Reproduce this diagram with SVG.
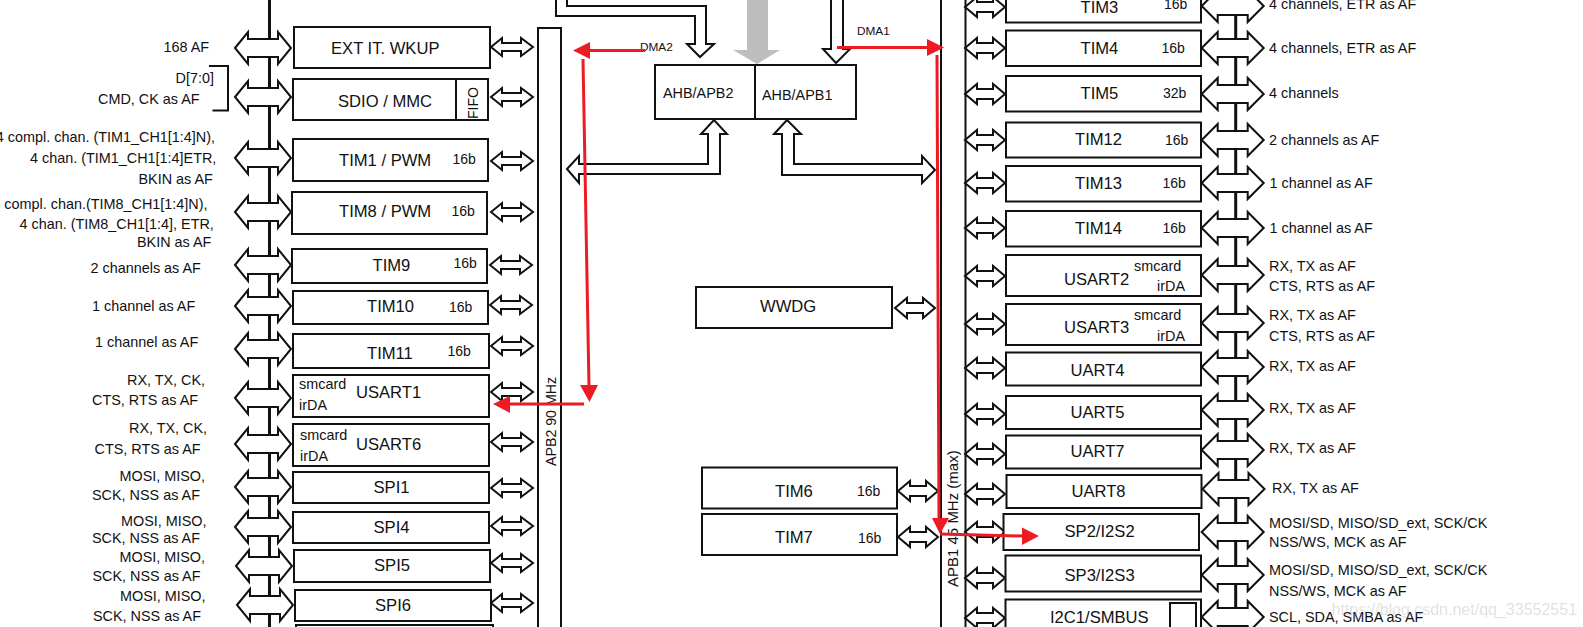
<svg xmlns="http://www.w3.org/2000/svg" width="1583" height="627" viewBox="0 0 1583 627">
<style>
text{font-family:"Liberation Sans",Arial,sans-serif;fill:#111}
.n{font-size:16.6px}
.s{font-size:14.4px}
.b{font-size:14px}
.d{font-size:11.8px}
.box{fill:#fff;stroke:#111;stroke-width:2}
.ln{fill:none;stroke:#111;stroke-width:2}
.bus{fill:none;stroke:#111;stroke-width:3}
.arr{fill:#fff;stroke:#111;stroke-width:2;stroke-linejoin:miter}
.red{fill:none;stroke:#ed1c24;stroke-width:3}
.redh{fill:#ed1c24}
</style>
<defs>
<path id="big-l" class="arr" d="M-28,0L-15,-16V-9H15V-16L28,0L15,16V9H-15V16Z"/>
<path id="big-r" class="arr" d="M-31,0L-15,-16V-9H15V-16L31,0L15,16V9H-15V16Z"/>
<path id="sm-a" class="arr" d="M-21,0L-10,-9V-4H9V-9L21,0L9,9V4H-10V9Z"/>
<path id="sm-b" class="arr" d="M-20,0L-8,-10V-5H8V-10L20,0L8,10V5H-8V10Z"/>
</defs>
<rect width="1583" height="627" fill="#fff"/>

<g id="connectors">
<!-- GPIO side buses -->
<path class="bus" d="M269.500,0V627M1235.700,0V627"/>
<!-- APB2 peripheral side -->
<g id="gpio-left">
<use href="#big-l" x="263" y="48"/><use href="#big-l" x="263" y="97"/><use href="#big-l" x="263" y="158"/><use href="#big-l" x="263" y="212"/><use href="#big-l" x="263" y="265"/><use href="#big-l" x="263" y="306"/><use href="#big-l" x="263" y="349"/><use href="#big-l" x="263" y="398"/><use href="#big-l" x="263" y="444"/><use href="#big-l" x="263" y="487"/><use href="#big-l" x="263" y="527"/><use href="#big-l" x="264" y="566"/><use href="#big-l" x="265" y="605"/>
</g>
<g id="apb2-links">
<use href="#sm-a" x="512" y="47"/><use href="#sm-a" x="512" y="97"/><use href="#sm-a" x="512" y="161"/><use href="#sm-a" x="512" y="212"/><use href="#sm-a" x="511" y="265"/><use href="#sm-a" x="511" y="305"/><use href="#sm-a" x="512" y="346"/><use href="#sm-a" x="512" y="392"/><use href="#sm-a" x="512" y="442"/><use href="#sm-a" x="512" y="488"/><use href="#sm-a" x="512" y="526"/><use href="#sm-a" x="512" y="563"/><use href="#sm-a" x="512" y="603"/>
</g>
<!-- APB1 peripheral side -->
<g id="apb1-links">
<use href="#sm-b" x="985" y="7"/><use href="#sm-b" x="985" y="48"/><use href="#sm-b" x="985" y="94"/><use href="#sm-b" x="985" y="140"/><use href="#sm-b" x="985" y="183"/><use href="#sm-b" x="985" y="228"/><use href="#sm-b" x="985" y="276"/><use href="#sm-b" x="985" y="324"/><use href="#sm-b" x="985" y="368"/><use href="#sm-b" x="985" y="414"/><use href="#sm-b" x="985" y="454"/><use href="#sm-b" x="985" y="494"/><use href="#sm-b" x="985" y="532"/><use href="#sm-b" x="985" y="578"/><use href="#sm-b" x="985" y="618"/>
<use href="#sm-b" x="915" y="308"/><use href="#sm-b" x="918" y="491"/><use href="#sm-b" x="918" y="537"/>
</g>
<g id="gpio-right">
<use href="#big-r" x="1232.700" y="6"/><use href="#big-r" x="1232.700" y="48"/><use href="#big-r" x="1232.700" y="94"/><use href="#big-r" x="1232.700" y="140"/><use href="#big-r" x="1232.700" y="183"/><use href="#big-r" x="1232.700" y="228"/><use href="#big-r" x="1232.700" y="275"/><use href="#big-r" x="1232.700" y="323"/><use href="#big-r" x="1232.700" y="367"/><use href="#big-r" x="1232.700" y="410"/><use href="#big-r" x="1232.700" y="450"/><use href="#big-r" x="1233.500" y="489"/><use href="#big-r" x="1232.700" y="532"/><use href="#big-r" x="1232.700" y="575"/><use href="#big-r" x="1232.700" y="617"/>
</g>
<!-- Matrix feeds into the bridges -->
<path class="arr" d="M556,-3V16H695V44H687L700,57L714,44H706V6H567V-3Z"/>
<path d="M747,0H768V50H780L757,64L733,50H747Z" fill="#bebebe"/>
<path class="arr" d="M831,-3V49H823L836,63L850,49H843V-3Z"/>
<!-- Bridge outputs -->
<path class="arr" d="M567,169L579,156V164H708V134H701L714,120L727,134H720V174H579V183Z"/>
<path class="arr" d="M787,120L774,134H782V175H922V183L935,170L922,156V164H794V134H801Z"/>
</g>

<g id="apb2-bus"><path class="ln" d="M538,630V28H561V630"/><text style="font-size:14.2px" transform="translate(556,466) rotate(-90)">APB2 90 MHz</text></g>
<g id="apb1-bus"><path class="ln" d="M941,-3V630M965.500,-3V630"/><text style="font-size:15px" transform="translate(958,587) rotate(-90)">APB1 45 MHz (max)</text></g>

<g id="ahb-apb"><rect class="box" x="655" y="65" width="201" height="54"/><path class="ln" d="M755,65V119"/><text class="s" x="663" y="98">AHB/APB2</text><text class="s" x="762" y="100">AHB/APB1</text></g>
<g id="wwdg"><rect class="box" x="696" y="287" width="196" height="41"/><text class="n" x="760" y="312">WWDG</text></g>
<g id="tim6"><rect class="box" x="702" y="467.500" width="195" height="41"/><text class="n" x="775" y="497">TIM6</text><text class="b" x="857" y="496">16b</text></g>
<g id="tim7"><rect class="box" x="702" y="514" width="195" height="41"/><text class="n" x="775" y="543">TIM7</text><text class="b" x="858" y="543">16b</text></g>

<g id="ext-it"><rect class="box" x="294" y="27" width="196" height="41"/><text class="n" x="331" y="54">EXT IT. WKUP</text></g>
<g id="sdio"><rect class="box" x="293" y="79" width="195" height="41"/><path class="ln" d="M456,79V120"/><text class="n" x="338" y="107">SDIO / MMC</text><text class="b" transform="translate(478,119) rotate(-90)">FIFO</text></g>
<g id="tim1"><rect class="box" x="293" y="139" width="195" height="42"/><text class="n" x="339" y="166">TIM1 / PWM</text><text class="b" x="452.500" y="164">16b</text></g>
<g id="tim8"><rect class="box" x="292" y="192" width="195" height="42"/><text class="n" x="339" y="217">TIM8 / PWM</text><text class="b" x="451.500" y="216">16b</text></g>
<g id="tim9"><rect class="box" x="292" y="249" width="195" height="34"/><text class="n" x="372.500" y="271">TIM9</text><text class="b" x="453.500" y="268">16b</text></g>
<g id="tim10"><rect class="box" x="293" y="291" width="195" height="33"/><text class="n" x="367" y="312">TIM10</text><text class="b" x="449" y="312">16b</text></g>
<g id="tim11"><rect class="box" x="293" y="334" width="196" height="34"/><text class="n" x="367" y="359">TIM11</text><text class="b" x="447.500" y="356">16b</text></g>
<g id="usart1"><rect class="box" x="293" y="375" width="196" height="42"/><text class="n" x="356" y="398">USART1</text><text class="s" x="299" y="389">smcard</text><text class="s" x="299" y="410">irDA</text></g>
<g id="usart6"><rect class="box" x="293" y="424" width="196" height="42"/><text class="n" x="356" y="450">USART6</text><text class="s" x="300" y="440">smcard</text><text class="s" x="300" y="461">irDA</text></g>
<g id="spi1"><rect class="box" x="293" y="472" width="196" height="31"/><text class="n" x="373.500" y="493">SPI1</text></g>
<g id="spi4"><rect class="box" x="293" y="512" width="196" height="31"/><text class="n" x="373.500" y="533">SPI4</text></g>
<g id="spi5"><rect class="box" x="294" y="550" width="196" height="32"/><text class="n" x="374" y="571">SPI5</text></g>
<g id="spi6"><rect class="box" x="295" y="590" width="196" height="31"/><text class="n" x="375" y="611">SPI6</text></g>
<g id="next-left"><rect class="box" x="296" y="625" width="197" height="10"/></g>

<g id="tim3"><rect class="box" x="1006" y="-20" width="195" height="42.500"/><text class="n" x="1080.500" y="13">TIM3</text><text class="b" x="1164" y="9">16b</text></g>
<g id="tim4"><rect class="box" x="1006" y="30.500" width="195" height="35.500"/><text class="n" x="1080.500" y="54">TIM4</text><text class="b" x="1161.500" y="53">16b</text></g>
<g id="tim5"><rect class="box" x="1006" y="76" width="195" height="35.500"/><text class="n" x="1080.500" y="99">TIM5</text><text class="b" x="1163" y="98">32b</text></g>
<g id="tim12"><rect class="box" x="1006" y="122.500" width="195" height="35"/><text class="n" x="1075" y="145">TIM12</text><text class="b" x="1165" y="145">16b</text></g>
<g id="tim13"><rect class="box" x="1006" y="166" width="195" height="35.500"/><text class="n" x="1075" y="189">TIM13</text><text class="b" x="1162.500" y="188">16b</text></g>
<g id="tim14"><rect class="box" x="1006" y="211" width="195" height="35.500"/><text class="n" x="1075" y="234">TIM14</text><text class="b" x="1162.500" y="233">16b</text></g>
<g id="usart2"><rect class="box" x="1006" y="255" width="195" height="41"/><text class="n" x="1064" y="285">USART2</text><text class="s" x="1134" y="271">smcard</text><text class="s" x="1157" y="291">irDA</text></g>
<g id="usart3"><rect class="box" x="1006" y="304" width="195" height="41"/><text class="n" x="1064" y="333">USART3</text><text class="s" x="1134" y="320">smcard</text><text class="s" x="1157" y="341">irDA</text></g>
<g id="uart4"><rect class="box" x="1006" y="352.500" width="195" height="33"/><text class="n" x="1070.500" y="376">UART4</text></g>
<g id="uart5"><rect class="box" x="1006" y="396" width="195" height="33"/><text class="n" x="1070.500" y="418">UART5</text></g>
<g id="uart7"><rect class="box" x="1006" y="435.500" width="195" height="33"/><text class="n" x="1070.500" y="457">UART7</text></g>
<g id="uart8"><rect class="box" x="1006.500" y="475" width="195" height="33"/><text class="n" x="1071.500" y="497">UART8</text></g>
<g id="spi2"><rect class="box" x="1003.500" y="514" width="195.500" height="36"/><text class="n" x="1064.500" y="537">SP2/I2S2</text></g>
<g id="spi3"><rect class="box" x="1005.500" y="555.500" width="195.500" height="36"/><text class="n" x="1064.500" y="581">SP3/I2S3</text></g>
<g id="i2c1"><rect class="box" x="1005.500" y="599.500" width="195.500" height="40"/><rect class="box" x="1170" y="603" width="26" height="36"/><text class="n" x="1050" y="623">I2C1/SMBUS</text></g>

<g id="pin-labels-left">
<text class="s" x="163.500" y="52">168 AF</text>
<path class="ln" d="M209,66H228V110.500H212.500"/>
<text class="s" x="175.500" y="83">D[7:0]</text>
<text class="s" x="98" y="104">CMD, CK as AF</text>
<text class="s" x="215" y="142" text-anchor="end">4 compl. chan. (TIM1_CH1[1:4]N),</text>
<text class="s" x="30" y="163">4 chan. (TIM1_CH1[1:4]ETR,</text>
<text class="s" x="138.500" y="184">BKIN as AF</text>
<text class="s" x="207.500" y="209" text-anchor="end">4 compl. chan.(TIM8_CH1[1:4]N),</text>
<text class="s" x="19.500" y="229">4 chan. (TIM8_CH1[1:4], ETR,</text>
<text class="s" x="137" y="247">BKIN as AF</text>
<text class="s" x="90.500" y="273">2 channels as AF</text>
<text class="s" x="92" y="311">1 channel as AF</text>
<text class="s" x="95" y="347">1 channel as AF</text>
<text class="s" x="127" y="385">RX, TX, CK,</text>
<text class="s" x="92" y="405">CTS, RTS as AF</text>
<text class="s" x="129" y="433">RX, TX, CK,</text>
<text class="s" x="94.500" y="454">CTS, RTS as AF</text>
<text class="s" x="119.500" y="481">MOSI, MISO,</text>
<text class="s" x="92" y="500">SCK, NSS as AF</text>
<text class="s" x="121" y="526">MOSI, MISO,</text>
<text class="s" x="92" y="543">SCK, NSS as AF</text>
<text class="s" x="119.500" y="562">MOSI, MISO,</text>
<text class="s" x="92.500" y="581">SCK, NSS as AF</text>
<text class="s" x="120" y="601">MOSI, MISO,</text>
<text class="s" x="93" y="621">SCK, NSS as AF</text>
</g>

<g id="pin-labels-right">
<text class="s" x="1269" y="9">4 channels, ETR as AF</text>
<text class="s" x="1269" y="53">4 channels, ETR as AF</text>
<text class="s" x="1269" y="98">4 channels</text>
<text class="s" x="1269" y="145">2 channels as AF</text>
<text class="s" x="1269.500" y="188">1 channel as AF</text>
<text class="s" x="1269.500" y="233">1 channel as AF</text>
<text class="s" x="1269" y="271">RX, TX as AF</text>
<text class="s" x="1269" y="291">CTS, RTS as AF</text>
<text class="s" x="1269" y="320">RX, TX as AF</text>
<text class="s" x="1269" y="341">CTS, RTS as AF</text>
<text class="s" x="1269" y="371">RX, TX as AF</text>
<text class="s" x="1269" y="413">RX, TX as AF</text>
<text class="s" x="1269" y="453">RX, TX as AF</text>
<text class="s" x="1272" y="493">RX, TX as AF</text>
<text class="s" x="1269" y="528">MOSI/SD, MISO/SD_ext, SCK/CK</text>
<text class="s" x="1269" y="547">NSS/WS, MCK as AF</text>
<text class="s" x="1269" y="575">MOSI/SD, MISO/SD_ext, SCK/CK</text>
<text class="s" x="1269" y="596">NSS/WS, MCK as AF</text>
<text class="s" x="1269" y="622">SCL, SDA, SMBA as AF</text>
</g>

<text x="1331.500" y="615" font-size="16" style="fill:#9a9a9a;fill-opacity:.3">https://blog.csdn.net/qq_33552551</text>

<!-- DMA routes -->
<g id="dma-routes">
<text class="d" x="640" y="51">DMA2</text>
<text class="d" x="857" y="35">DMA1</text>
<path class="red" d="M645,50.500H588M583,59L589,387M584,404H508"/>
<path class="redh" d="M573,50.500L590,42V59ZM589.500,402L580,385H598ZM493,404L510,396V413Z"/>
<path class="red" d="M837,47.500H928M937,55L939,520M940,534L1023,536"/>
<path class="redh" d="M944,47.500L927,39V56ZM940,534L932,518H949ZM1039,536L1022,527.500V545Z"/>
</g>
</svg>
